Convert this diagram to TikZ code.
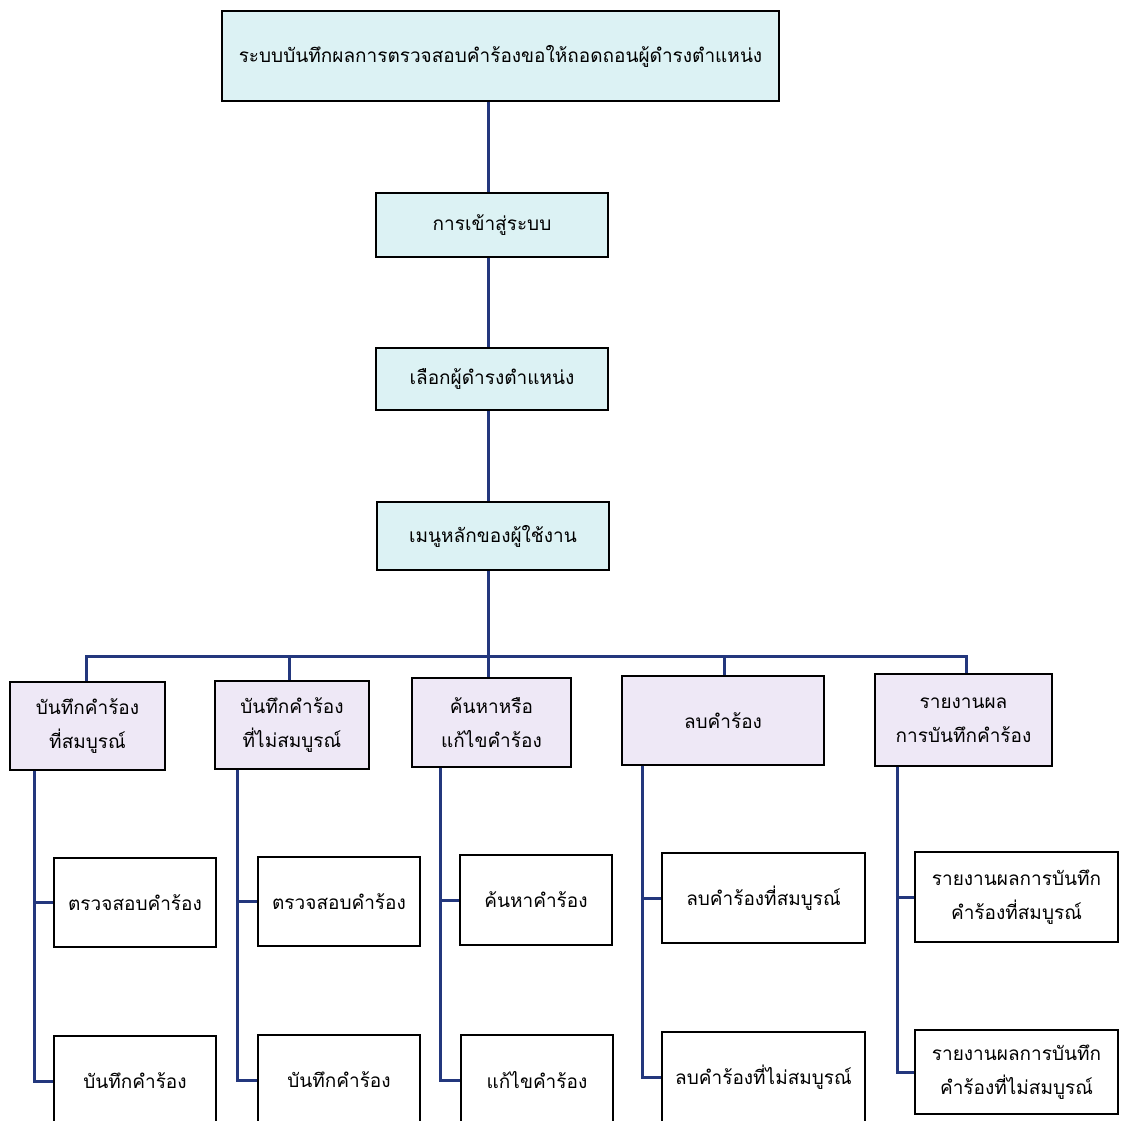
\documentclass[tikz,border=0pt]{standalone}
\usepackage{fontspec}
\newfontfamily\thaifont[Script=Thai]{Loma}
\definecolor{linkblue}{RGB}{35,55,125}
\definecolor{cyanfill}{RGB}{220,242,244}
\definecolor{lavfill}{RGB}{238,232,246}
\begin{document}
\begin{tikzpicture}[x=1pt,y=-1pt,
  every node/.style={font=\thaifont\fontsize{19}{34}\selectfont, align=center, inner sep=0pt},
  topbox/.style={draw=black, line width=1.4pt, fill=cyanfill},
  menubox/.style={draw=black, line width=1.3pt, fill=lavfill},
  leafbox/.style={draw=black, line width=1.2pt, fill=white},
  link/.style={draw=linkblue, line width=3pt}]
\useasboundingbox (0,0) rectangle (1122,1121);
% top column
\node[topbox, minimum width=557pt, minimum height=90pt] (top) at (500.5,56) {ระบบบันทึกผลการตรวจสอบคำร้องขอให้ถอดถอนผู้ดำรงตำแหน่ง};
\node[topbox, minimum width=232pt, minimum height=64pt] (login) at (492,225) {การเข้าสู่ระบบ};
\node[topbox, minimum width=232pt, minimum height=62pt] (select) at (492,379) {เลือกผู้ดำรงตำแหน่ง};
\node[topbox, minimum width=232pt, minimum height=68pt] (menu) at (493,536) {เมนูหลักของผู้ใช้งาน};
% menu level
\node[menubox, minimum width=155pt, minimum height=88pt] (A) at (87.5,726) {บันทึกคำร้อง\\ที่สมบูรณ์};
\node[menubox, minimum width=154pt, minimum height=88pt] (B) at (292,725) {บันทึกคำร้อง\\ที่ไม่สมบูรณ์};
\node[menubox, minimum width=159pt, minimum height=89pt] (C) at (491.5,722.5) {ค้นหาหรือ\\แก้ไขคำร้อง};
\node[menubox, minimum width=202pt, minimum height=89pt] (D) at (723,720.5) {ลบคำร้อง};
\node[menubox, minimum width=177pt, minimum height=92pt] (E) at (963.5,720) {รายงานผล\\การบันทึกคำร้อง};
% leaves row 1
\node[leafbox, minimum width=162pt, minimum height=89pt] (A1) at (135,902.5) {ตรวจสอบคำร้อง};
\node[leafbox, minimum width=162pt, minimum height=89pt] (B1) at (339,901.5) {ตรวจสอบคำร้อง};
\node[leafbox, minimum width=152pt, minimum height=90pt] (C1) at (536,900) {ค้นหาคำร้อง};
\node[leafbox, minimum width=203pt, minimum height=90pt] (D1) at (763.5,898) {ลบคำร้องที่สมบูรณ์};
\node[leafbox, minimum width=203pt, minimum height=90pt] (E1) at (1016.5,897) {รายงานผลการบันทึก\\คำร้องที่สมบูรณ์};
% leaves row 2
\node[leafbox, minimum width=162pt, minimum height=90pt] (A2) at (135,1081) {บันทึกคำร้อง};
\node[leafbox, minimum width=162pt, minimum height=90pt] (B2) at (339,1080) {บันทึกคำร้อง};
\node[leafbox, minimum width=152pt, minimum height=90pt] (C2) at (537,1080) {แก้ไขคำร้อง};
\node[leafbox, minimum width=203pt, minimum height=90pt] (D2) at (763.5,1077) {ลบคำร้องที่ไม่สมบูรณ์};
\node[leafbox, minimum width=203pt, minimum height=84pt] (E2) at (1016.5,1072) {รายงานผลการบันทึก\\คำร้องที่ไม่สมบูรณ์};
% helper coordinates
\coordinate (trunk) at (488,0);
\coordinate (bar) at (0,656);
\coordinate (sa) at (86,0);
\coordinate (sb) at (289,0);
\coordinate (sd) at (724,0);
\coordinate (se) at (966,0);
\coordinate (ca) at (34,0);
\coordinate (cb) at (237,0);
\coordinate (cc) at (440,0);
\coordinate (cd) at (642,0);
\coordinate (ce) at (897,0);
% trunk
\draw[link] (top.south -| trunk) -- (login.north -| trunk);
\draw[link] (login.south -| trunk) -- (select.north -| trunk);
\draw[link] (select.south -| trunk) -- (menu.north -| trunk);
\draw[link] (menu.south -| trunk) -- (C.north -| trunk);
% bar
\draw[link] (A.north -| sa) |- (bar -| trunk);
\draw[link] (B.north -| sb) -- (bar -| sb);
\draw[link] (E.north -| se) |- (bar -| trunk);
\draw[link] (D.north -| sd) -- (bar -| sd);
% columns
\draw[link] (A.south -| ca) |- (A1.west);
\draw[link] (A.south -| ca) |- (A2.west);
\draw[link] (B.south -| cb) |- (B1.west);
\draw[link] (B.south -| cb) |- (B2.west);
\draw[link] (C.south -| cc) |- (C1.west);
\draw[link] (C.south -| cc) |- (C2.west);
\draw[link] (D.south -| cd) |- (D1.west);
\draw[link] (D.south -| cd) |- (D2.west);
\draw[link] (E.south -| ce) |- (E1.west);
\draw[link] (E.south -| ce) |- (E2.west);
\end{tikzpicture}
\end{document}
